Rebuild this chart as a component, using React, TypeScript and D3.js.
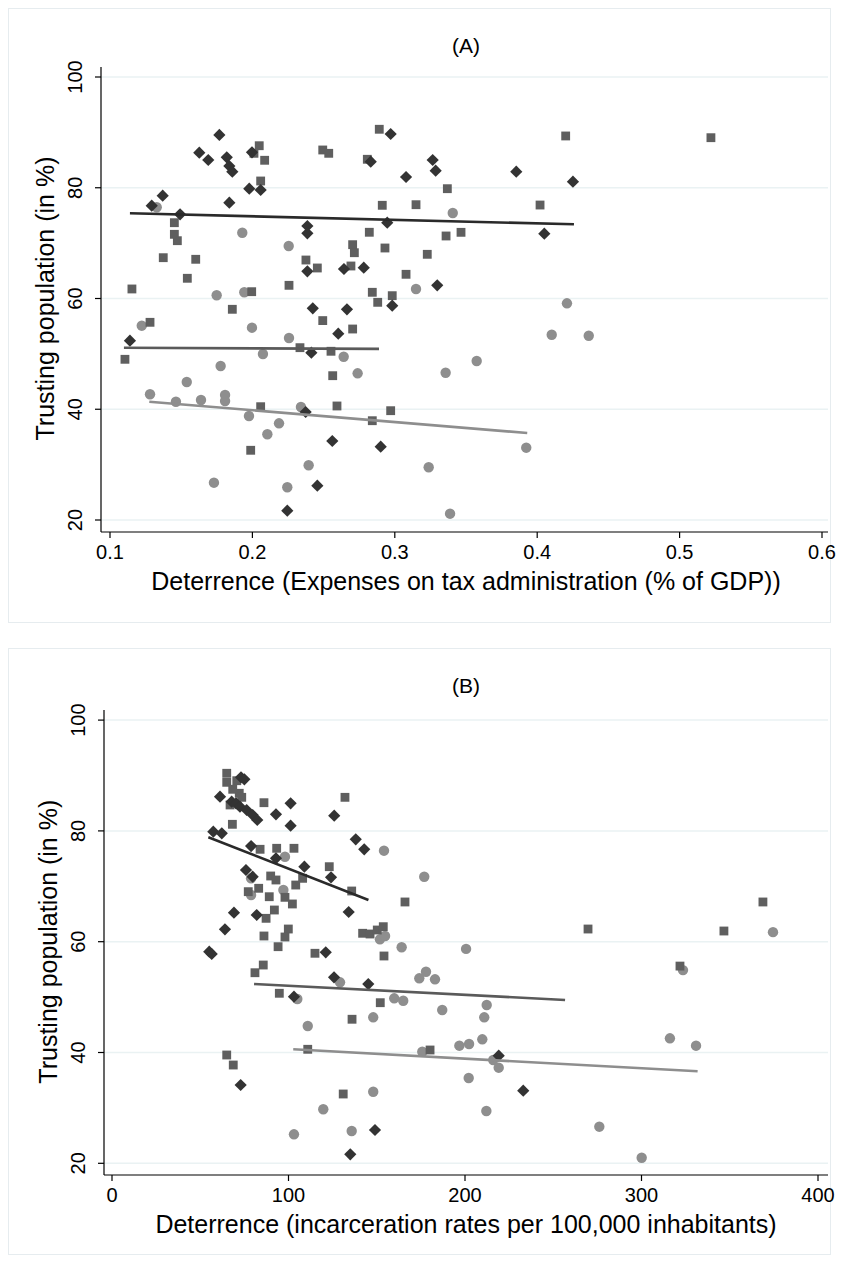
import React from "react";
import * as d3 from "d3";

// ---------- Panel A data (x = expenses on tax administration, % of GDP; y = trusting population %) ----------
const aDiamondX = [0.1293,0.137,0.1492,0.1627,0.169,0.1768,0.182,0.1838,0.1859,0.1838,0.1978,0.2058,0.1997,0.2971,0.2831,0.3266,0.3287,0.3079,0.2386,0.2386,0.2947,0.2386,0.2643,0.2782,0.3298,0.2424,0.2664,0.2982,0.3853,0.4251,0.405,0.114,0.2603,0.2414,0.2374,0.2561,0.2901,0.2456,0.2245];
const aDiamondY = [76.76,78.56,75.21,86.33,85.01,89.53,85.5,83.93,82.9,77.3,79.83,79.59,86.4,89.71,84.7,85.01,83.08,81.94,73.09,71.77,73.69,64.91,65.33,65.56,62.38,58.23,58.05,58.7,82.9,81.09,71.7,52.38,53.64,50.21,39.5,34.27,33.24,26.19,21.68];
const aSquareX = [0.2048,0.2011,0.2086,0.2058,0.1452,0.1452,0.1473,0.1374,0.1602,0.1543,0.1154,0.1995,0.1859,0.1281,0.2891,0.2494,0.2536,0.2807,0.3369,0.2912,0.3149,0.2821,0.336,0.2704,0.2716,0.2931,0.3228,0.2376,0.2456,0.2692,0.3079,0.2257,0.2842,0.2982,0.288,0.2494,0.42,0.402,0.3465,0.1105,0.2058,0.1988,0.2704,0.2334,0.2552,0.2564,0.2594,0.2971,0.2842,0.522];
const aSquareY = [87.59,86.22,84.96,81.22,73.69,71.59,70.44,67.37,67.08,63.65,61.72,61.23,58.05,55.7,90.56,86.82,86.22,85.14,79.83,76.83,76.94,71.96,71.29,69.72,68.27,69.12,67.98,66.95,65.51,65.87,64.37,62.38,61.12,60.51,59.31,56.01,89.35,76.88,71.95,49.02,40.46,32.59,54.49,51.12,50.47,46.06,40.59,39.74,37.93,89.04];
const aCircleX = [0.1328,0.1929,0.1749,0.1943,0.3407,0.4209,0.1223,0.1997,0.2074,0.1777,0.1539,0.1281,0.1463,0.1639,0.1808,0.1808,0.1976,0.2105,0.2187,0.173,0.2257,0.2641,0.2739,0.2341,0.2395,0.2245,0.3238,0.3357,0.3149,0.2255,0.4102,0.4362,0.3575,0.3923,0.3388];
const aCircleY = [76.47,71.88,60.58,61.12,75.44,59.13,55.09,54.73,49.98,47.81,44.92,42.7,41.36,41.67,42.57,41.49,38.78,35.48,37.46,26.74,52.87,49.49,46.49,40.41,29.88,25.91,29.52,46.6,61.72,69.48,53.46,53.28,48.71,33.06,21.14];
// fitted lines: [x0, y0, x1, y1]
const aFitDark = [0.114, 75.39, 0.4258, 73.4];
const aFitMid = [0.1098, 51.1, 0.2889, 50.9];
const aFitLight = [0.1276, 41.36, 0.393, 35.71];
const aXTicks = [0.1, 0.2, 0.3, 0.4, 0.5, 0.6];

// ---------- Panel B data (x = incarceration rate per 100,000) ----------
const bDiamondX = [73.1,75.0,61.2,67.8,70.3,72.5,76.3,79.7,82.3,101.2,92.9,101.2,57.4,62.2,78.8,92.9,109.0,75.9,79.7,69.1,82.0,64.0,125.9,138.1,142.9,124.1,134.1,121.1,55.1,56.5,103.1,125.8,145.2,149.0,135.0,72.9,219.1,233.0];
const bDiamondY = [89.68,89.31,86.17,85.27,84.98,84.37,83.77,82.87,81.97,84.98,83.0,80.94,79.86,79.57,77.27,75.05,73.54,72.94,71.73,65.23,64.82,62.24,82.74,78.48,76.68,71.62,65.36,58.09,58.19,57.78,50.07,53.57,52.36,26.01,21.62,34.13,39.42,33.1];
const bSquareX = [65.0,65.0,70.7,68.4,72.1,73.5,66.9,86.1,68.2,83.9,93.3,103.1,89.9,92.9,108.0,104.1,83.1,77.2,89.1,98.0,102.2,92.0,87.3,86.1,99.9,98.0,94.1,115.0,85.7,81.0,94.8,110.9,65.0,68.7,132.0,123.1,135.8,166.0,142.0,146.2,150.3,153.7,154.1,152.0,136.0,180.2,131.0,269.7,346.7,368.8,321.8];
const bSquareY = [90.4,88.77,89.06,87.51,86.79,86.06,84.68,85.09,81.19,76.68,76.86,76.86,71.86,71.14,71.44,70.23,69.64,69.03,68.12,68.01,66.81,65.72,64.22,61.03,62.29,60.85,59.1,57.91,55.79,54.4,50.69,40.58,39.55,37.74,86.06,73.54,69.15,67.17,61.52,61.39,62.11,62.71,57.42,48.99,46.0,40.45,32.51,62.29,61.93,67.17,55.6];
const bCircleX = [98.0,97.1,78.8,78.8,105.0,110.9,103.1,154.1,176.9,151.8,154.7,164.1,129.2,174.1,177.9,183.0,159.9,165.0,187.1,148.0,175.8,196.8,148.0,119.7,135.8,212.3,210.9,202.3,209.8,216.0,219.1,202.1,212.1,276.1,300.1,316.1,330.9,323.5,374.5,200.6];
const bCircleY = [75.34,69.33,71.44,68.43,49.66,44.78,25.23,76.43,71.73,60.43,61.03,58.99,52.67,53.39,54.58,53.21,49.78,49.35,47.67,46.35,40.14,41.23,32.92,29.75,25.83,48.57,46.35,41.53,42.38,38.65,37.26,35.4,29.44,26.61,21.01,42.56,41.23,54.87,61.72,58.7];
const bFitDark = [54.6, 78.84, 145.3, 67.53];
const bFitMid = [80.5, 52.36, 256.7, 49.48];
const bFitLight = [102.7, 40.58, 331.8, 36.61];
const bXTicks = [0, 100, 200, 300, 400];

const yTicks = [20, 40, 60, 80, 100];

const COL_DIAMOND = "#333333";
const COL_SQUARE = "#5f5f5f";
const COL_CIRCLE = "#8e8e8e";
const LINE_DARK = "#2a2a2a";
const LINE_MID = "#5a5a5a";
const LINE_LIGHT = "#8e8e8e";
const GRID = "#eaf2f3";
const FONT = "'Liberation Sans', Arial, Helvetica, sans-serif";

type PanelProps = {
  top: number;
  title: string;
  xTitle: string;
  xDomain: [number, number];
  xRange: [number, number];
  yRange: [number, number];
  axisX: number;
  axisY: number;
  xTicks: number[];
  fmt: (v: number) => string;
  diamonds: [number[], number[]];
  squares: [number[], number[]];
  circles: [number[], number[]];
  fits: number[][];
  boxH: number;
};

function Panel(p: PanelProps) {
  const x = d3.scaleLinear().domain(p.xDomain).range(p.xRange);
  const y = d3.scaleLinear().domain([20, 100]).range(p.yRange);
  const right = 828;
  const plotTop = y(100) - 10;
  const diamond = d3.symbol().type(d3.symbolDiamond2).size(95)();
  const square = d3.symbol().type(d3.symbolSquare).size(78)();
  const circle = d3.symbol().type(d3.symbolCircle).size(85)();
  const fitCols = [LINE_DARK, LINE_MID, LINE_LIGHT];
  const midY = (y(20) + y(100)) / 2;
  return (
    <g>
      <rect x={8.5} y={p.top + 0.5} width={822} height={p.boxH} fill="#fff" stroke="#e6ecef" strokeWidth={1} />
      {yTicks.map((t) => (
        <line key={"g" + t} x1={p.axisX} x2={right} y1={y(t)} y2={y(t)} stroke={GRID} strokeWidth={1.5} />
      ))}
      <line x1={p.axisX} x2={p.axisX} y1={plotTop} y2={p.axisY} stroke="#000" strokeWidth={1.2} />
      <line x1={p.axisX} x2={right} y1={p.axisY} y2={p.axisY} stroke="#000" strokeWidth={1.2} />
      {yTicks.map((t) => (
        <g key={"yt" + t}>
          <line x1={p.axisX - 6} x2={p.axisX} y1={y(t)} y2={y(t)} stroke="#000" strokeWidth={1.2} />
          <text
            transform={`translate(${p.axisX - 19},${y(t)}) rotate(-90)`}
            textAnchor="middle"
            fontFamily={FONT}
            fontSize={20}
            fill="#000"
          >
            {t}
          </text>
        </g>
      ))}
      {p.xTicks.map((t) => (
        <g key={"xt" + t}>
          <line x1={x(t)} x2={x(t)} y1={p.axisY} y2={p.axisY + 6} stroke="#000" strokeWidth={1.2} />
          <text x={x(t)} y={p.axisY + 27} textAnchor="middle" fontFamily={FONT} fontSize={20} fill="#000">
            {p.fmt(t)}
          </text>
        </g>
      ))}
      <text x={466} y={p.top + 45} textAnchor="middle" fontFamily={FONT} fontSize={21} fill="#000">
        {p.title}
      </text>
      <text
        transform={`translate(${p.axisX - 47},${midY}) rotate(-90)`}
        textAnchor="middle"
        fontFamily={FONT}
        fontSize={25}
        fill="#000"
      >
        Trusting population (in %)
      </text>
      <text x={466} y={p.axisY + 58} textAnchor="middle" fontFamily={FONT} fontSize={25} fill="#000">
        {p.xTitle}
      </text>
      {p.circles[0].map((v, i) => (
        <path key={"c" + i} d={circle!} transform={`translate(${x(v)},${y(p.circles[1][i])})`} fill={COL_CIRCLE} />
      ))}
      {p.squares[0].map((v, i) => (
        <path key={"s" + i} d={square!} transform={`translate(${x(v)},${y(p.squares[1][i])})`} fill={COL_SQUARE} />
      ))}
      {p.diamonds[0].map((v, i) => (
        <path key={"d" + i} d={diamond!} transform={`translate(${x(v)},${y(p.diamonds[1][i])})`} fill={COL_DIAMOND} />
      ))}
      {p.fits.map((f, i) => (
        <line key={"f" + i} x1={x(f[0])} y1={y(f[1])} x2={x(f[2])} y2={y(f[3])} stroke={fitCols[i]} strokeWidth={2.6} />
      ))}
    </g>
  );
}

export default function App() {
  return (
    <svg width={845} height={1261} style={{ position: "absolute", left: 0, top: 0, background: "#fff" }}>
      <rect width={845} height={1261} fill="#fff" />
      <Panel
        top={8}
        boxH={614}
        title="(A)"
        xTitle="Deterrence (Expenses on tax administration (% of GDP))"
        xDomain={[0.1, 0.6]}
        xRange={[110, 822]}
        yRange={[520, 77]}
        axisX={101}
        axisY={532}
        xTicks={aXTicks}
        fmt={(v) => d3.format(".1f")(v)}
        diamonds={[aDiamondX, aDiamondY]}
        squares={[aSquareX, aSquareY]}
        circles={[aCircleX, aCircleY]}
        fits={[aFitDark, aFitMid, aFitLight]}
      />
      <Panel
        top={648}
        boxH={606}
        title="(B)"
        xTitle="Deterrence (incarceration rates per 100,000 inhabitants)"
        xDomain={[0, 400]}
        xRange={[112, 818]}
        yRange={[1163.3, 720.1]}
        axisX={104}
        axisY={1175}
        xTicks={bXTicks}
        fmt={(v) => String(v)}
        diamonds={[bDiamondX, bDiamondY]}
        squares={[bSquareX, bSquareY]}
        circles={[bCircleX, bCircleY]}
        fits={[bFitDark, bFitMid, bFitLight]}
      />
    </svg>
  );
}
